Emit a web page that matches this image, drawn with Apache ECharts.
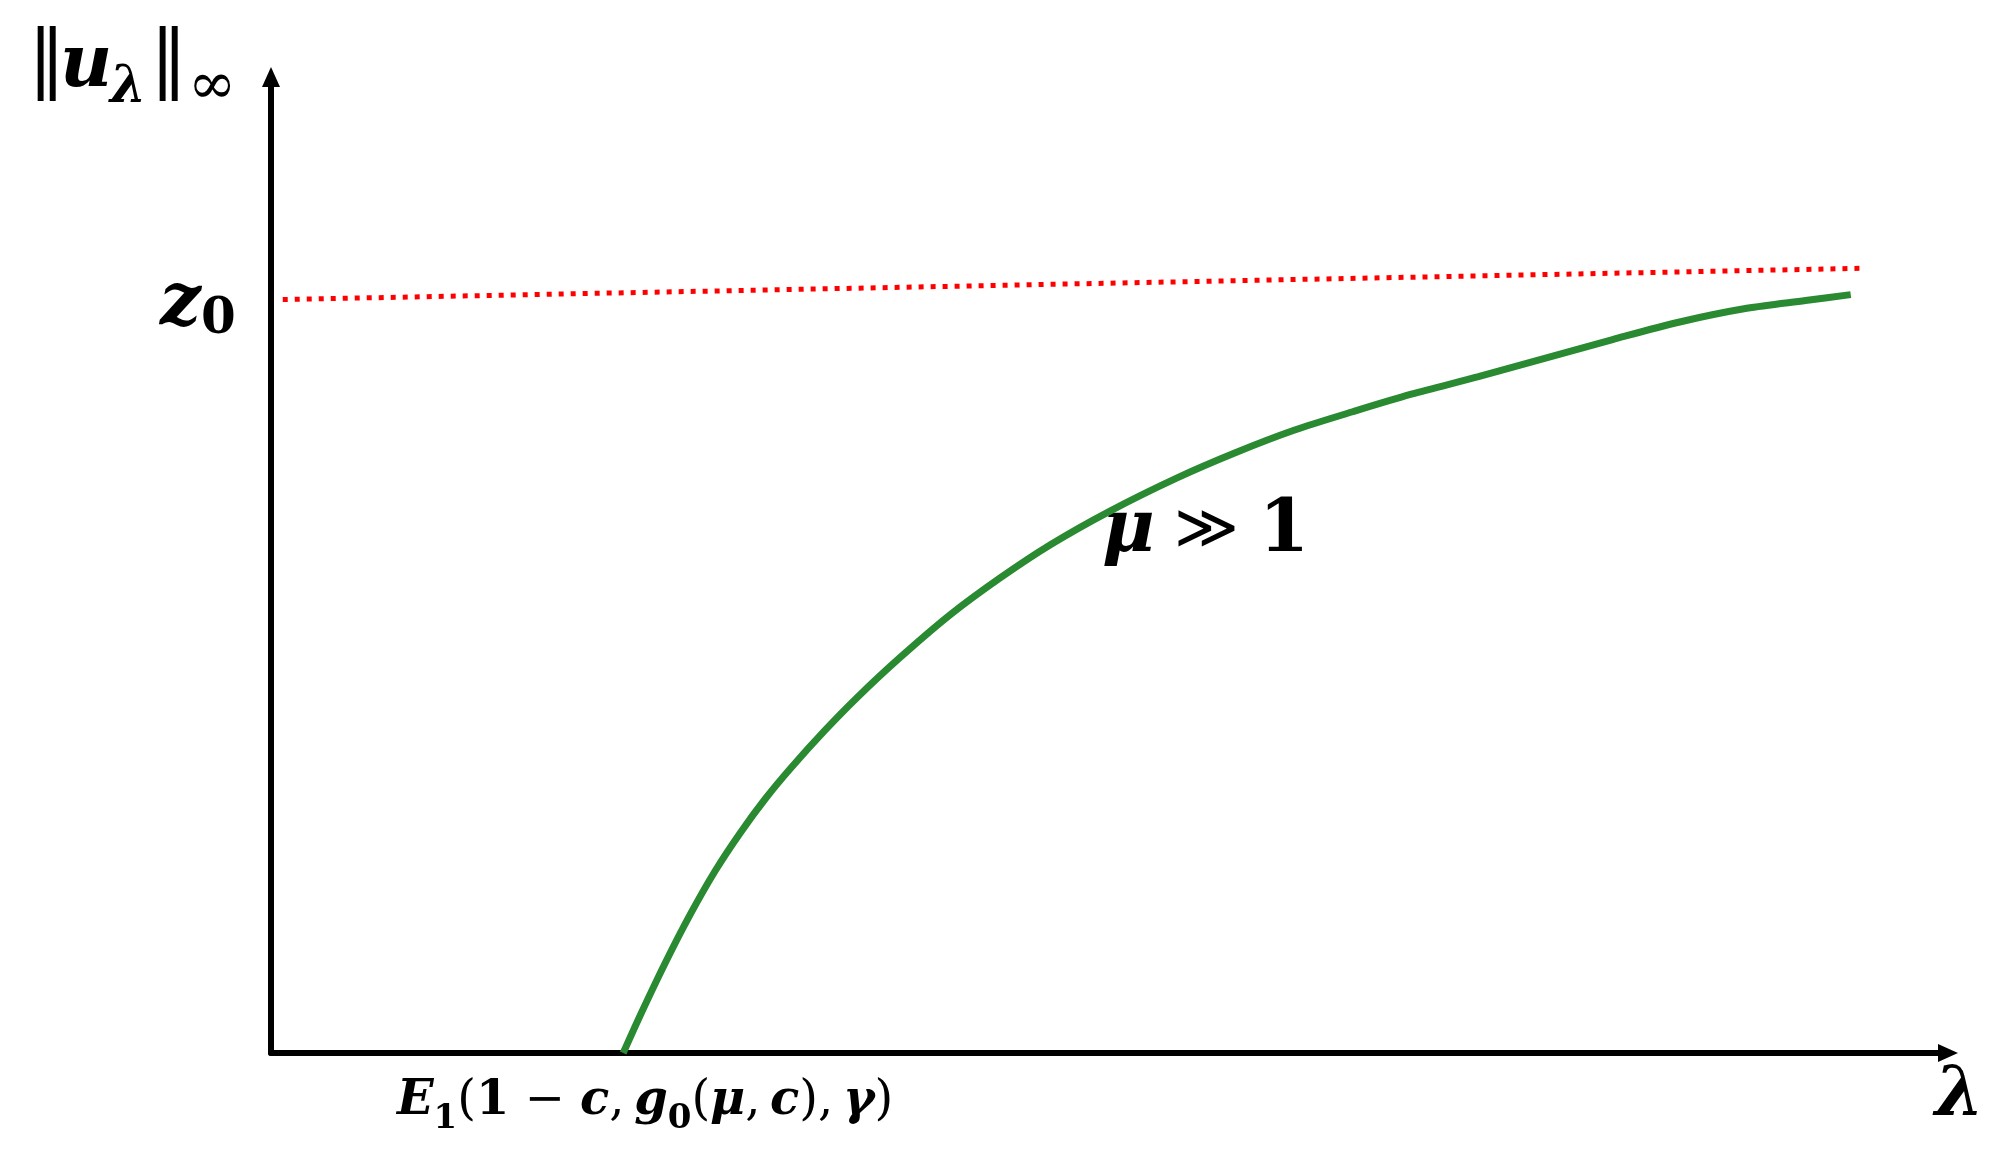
<!DOCTYPE html>
<html lang="en">
  <head>
    <meta charset="UTF-8" />
    <title>u_lambda vs lambda</title>
    <style>
      html, body { margin: 0; padding: 0; background: #fff; }
      #main { width: 2008px; height: 1157px; }
    </style>
  </head>
  <body>
    <div id="main"></div>
    <script src="https://cdn.jsdelivr.net/npm/echarts@6/dist/echarts.min.js"></script>
    <script>
      // 曲线数据 (lambda, ||u||)
      var curveX = [21.0, 22.0, 23.5, 25.0, 26.5, 28.0, 29.5, 31.0, 33.0, 35.0, 37.5, 40.5, 43.5, 46.5, 50.0, 54.0, 57.5, 61.0, 64.5, 68.0, 72.0, 76.0, 80.0, 84.0, 88.0, 91.5, 94.2];
      var curveY = [0, 3.8, 9.2, 14.2, 18.7, 22.6, 26.1, 29.2, 33.0, 36.5, 40.5, 44.9, 48.7, 52.1, 55.5, 58.9, 61.5, 63.8, 65.7, 67.5, 69.3, 71.2, 73.1, 74.9, 76.3, 77.1, 77.7];
      // z0 虚线两端
      var z0X = [0.7, 94.9];
      var z0Y = [77.2, 80.4];

      var serif = "DejaVu Serif";

      var curveData = curveX.map(function (x, i) { return [x, curveY[i]]; });
      var z0Data = z0X.map(function (x, i) { return [x, z0Y[i]]; });

      var myChart = echarts.init(document.getElementById("main"));

      var axisCommon = {
        type: "value",
        min: 0,
        max: 100,
        axisLine: {
          show: true,
          onZero: false,
          symbol: ["none", "triangle"],
          symbolSize: [18, 20],
          lineStyle: { color: "#000", width: 6 },
        },
        axisTick: { show: false },
        axisLabel: { show: false },
        splitLine: { show: false },
      };

      // 单个文字片段
      function piece(txt, left, top, font) {
        return { type: "text", left: left, top: top, style: { text: txt, font: font, fill: "#000" } };
      }

      var option = {
        backgroundColor: "#fff",
        animation: false,
        grid: { left: 271, top: 77, right: 60, bottom: 104 },
        xAxis: axisCommon,
        yAxis: axisCommon,
        series: [
          {
            type: "line",
            data: z0Data,
            symbol: "none",
            lineStyle: { color: "#ff0000", width: 5, type: [5, 7] },
          },
          {
            type: "line",
            data: curveData,
            symbol: "none",
            smooth: 0.3,
            lineStyle: { color: "#2a8a32", width: 7 },
          },
        ],
        graphic: [
          // ||u_lambda||_inf
          piece("‖", 28, 26, "75px " + serif),
          piece("u", 60, 31, "italic bold 72px " + serif),
          piece("λ", 110, 62, "italic bold 52px " + serif),
          piece("‖", 150, 26, "75px " + serif),
          piece("∞", 188, 59, "58px " + serif),
          // z_0
          {
            type: "text",
            left: 160,
            top: 269,
            style: {
              text: "{bi|z}{s|0}",
              rich: {
                bi: { fontFamily: serif, fontSize: 72, fontStyle: "italic", fontWeight: "bold", lineHeight: 80, verticalAlign: "middle" },
                s: { fontFamily: serif, fontSize: 50, fontWeight: "bold", lineHeight: 22, verticalAlign: "bottom" },
              },
            },
          },
          // mu >> 1
          {
            type: "text",
            left: 1102,
            top: 496,
            style: {
              text: "{bi|μ}{n| ≫ }{b|1}",
              rich: {
                bi: { fontFamily: serif, fontSize: 72, fontStyle: "italic", fontWeight: "bold", lineHeight: 80 },
                n: { fontFamily: serif, fontSize: 62, lineHeight: 80 },
                b: { fontFamily: serif, fontSize: 72, fontWeight: "bold", lineHeight: 80 },
              },
            },
          },
          // E_1(1 - c, g_0(mu, c), gamma)
          {
            type: "text",
            left: 397,
            top: 1078,
            style: {
              text: "{bi|E}{s|1}{n|(}{b|1}{n| − }{bi|c}{n|,\u2009}{bi|g}{s|0}{n|(}{bi|μ}{n|,\u2009}{bi|c}{n|),\u2009}{bi|γ}{n|)}",
              rich: {
                bi: { fontFamily: serif, fontSize: 48, fontStyle: "italic", fontWeight: "bold", lineHeight: 68, verticalAlign: "middle" },
                b: { fontFamily: serif, fontSize: 48, fontWeight: "bold", lineHeight: 68, verticalAlign: "middle" },
                n: { fontFamily: serif, fontSize: 48, lineHeight: 68, verticalAlign: "middle" },
                s: { fontFamily: serif, fontSize: 34, fontWeight: "bold", lineHeight: 30, verticalAlign: "bottom" },
              },
            },
          },
          // lambda
          piece("λ", 1935, 1062, "italic bold 70px " + serif),
        ],
      };

      myChart.setOption(option);
    </script>
  </body>
</html>
